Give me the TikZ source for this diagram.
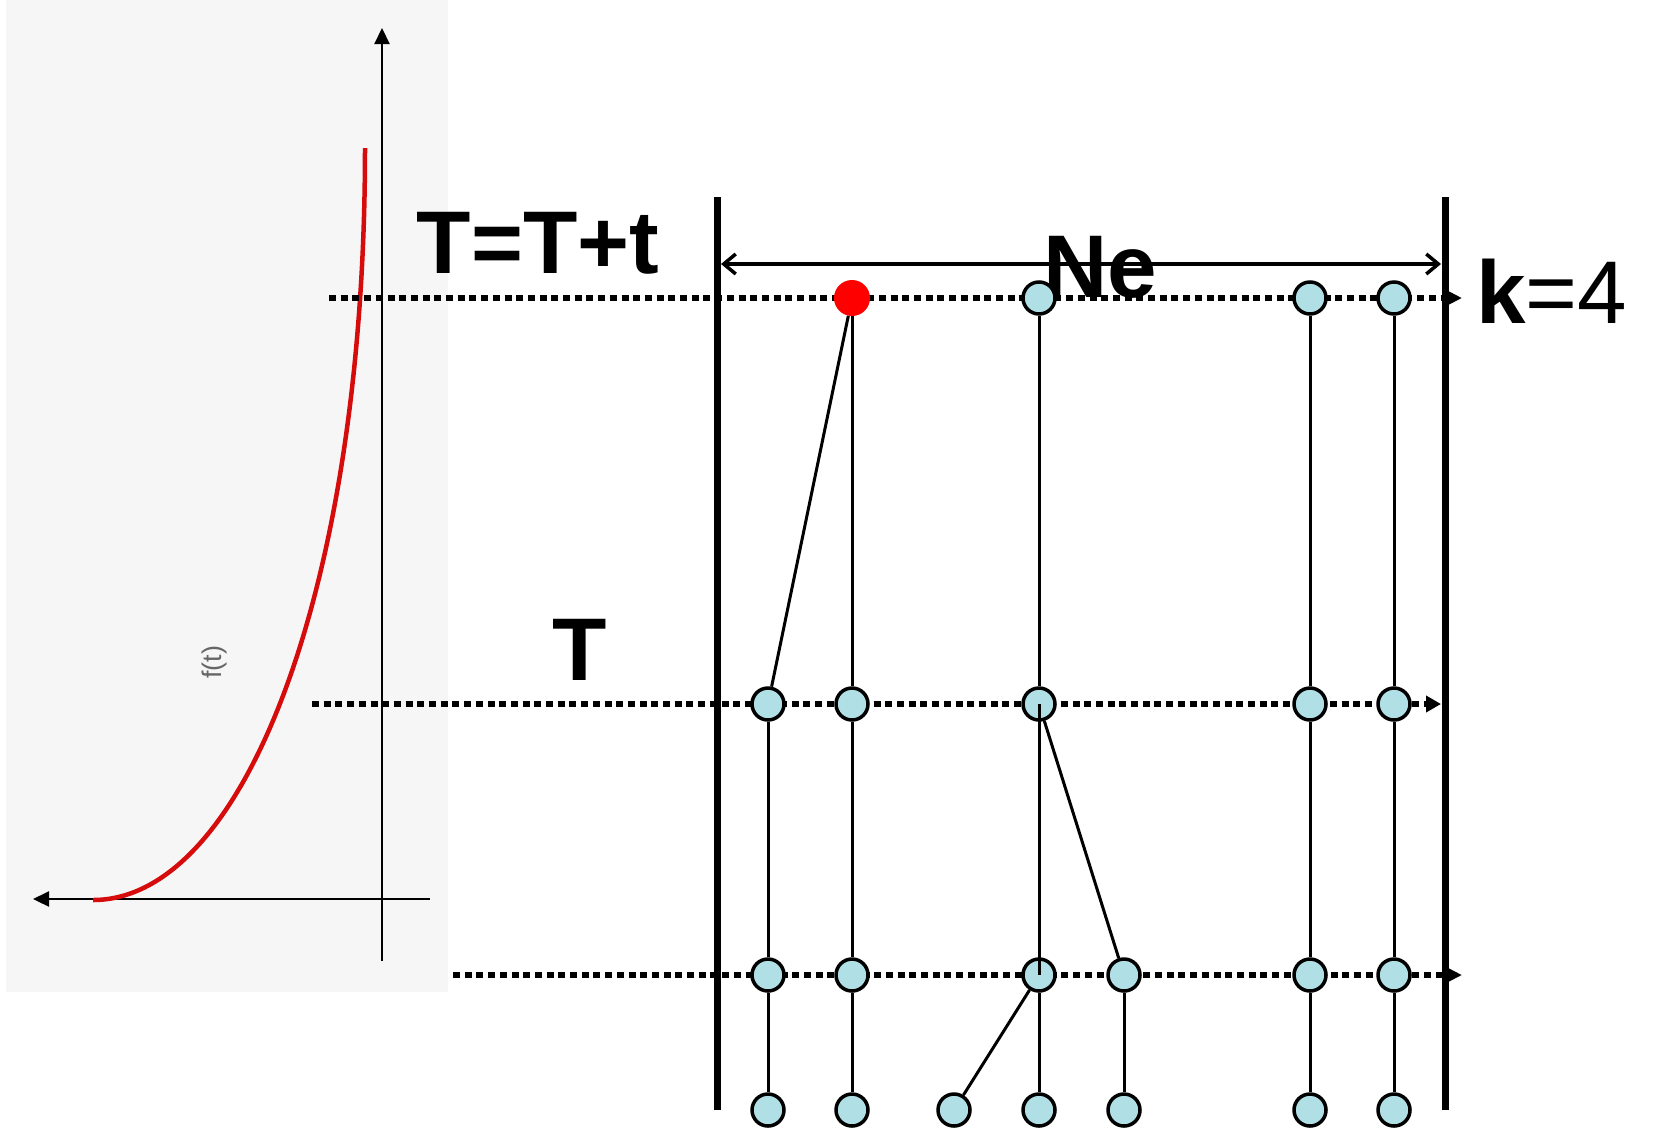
\documentclass[tikz,border=0pt]{standalone}
\usepackage{fontspec}
\setmainfont{Liberation Sans}
\usepackage{tikz}
\usetikzlibrary{arrows.meta}
\definecolor{panelgrey}{RGB}{246,246,246}
\definecolor{cellblue}{RGB}{176,224,230}
\definecolor{curvered}{RGB}{214,12,12}

\begin{document}
\begin{tikzpicture}[x=1pt, y=-1pt,
	lineage/.style={circle, draw=black, line width=3.5pt, fill=cellblue, minimum size=32pt, inner sep=0pt},
	mutant/.style={circle, fill=red, minimum size=36pt, inner sep=0pt},
	gen/.style={line width=6pt, dash pattern=on 7pt off 4.7pt},
	link/.style={line width=3pt},
	big/.style={font=\fontsize{89}{100}\selectfont\bfseries, inner sep=0pt, anchor=base},
	>={Triangle[length=16pt, width=15pt]}]
	\useasboundingbox (0,0) rectangle (1653,1133);
	% f(t) panel
	\fill[panelgrey] (6,0) rectangle (448,992);
	\draw[->, line width=2.2pt] (430,899) -- (33,899);
	\draw[->, line width=2.2pt] (382,961) -- (382,28);
	\draw[curvered, line width=4.5pt] (93,900) .. controls (243,900) and (365,590) .. (365,148);
	\node[gray!80!black, rotate=90, font=\fontsize{27}{30}\selectfont] (ft) at (215,662) {f(t)};
	% generations
	\coordinate (g1s) at (329,298);
	\coordinate (g1e) at (1462,298);
	\coordinate (g2s) at (312,704);
	\coordinate (g2e) at (1441,704);
	\coordinate (g3s) at (453,975);
	\coordinate (g3e) at (1462,975);
	\draw[gen, ->] (g1s) -- (g1e);
	\draw[gen, -{Triangle[length=15pt, width=16pt]}] (g2s) -- (g2e);
	\draw[gen, ->] (g3s) -- (g3e);
	\draw[line width=7pt] (717,197) -- (717,1110);
	\draw[line width=7pt] (1445,197) -- (1445,1110);
	\coordinate (nel) at (721,264);
	\coordinate (ner) at (1441,264);
	\draw[{Straight Barb[length=12pt, width=20pt]}-{Straight Barb[length=12pt, width=20pt]}, line width=3.5pt] (nel) -- (ner);
	\node[big] (ne) at (1100,297) {Ne};
	\node[big] (tt) at (538,273) {T=T+t};
	\node[big] (tm) at (580,680) {T};
	\node[big, anchor=base west] (k) at (1476,323) {k{\mdseries =4}};
	% cells
	\node[mutant] (n12) at (852,298) {};
	\node[lineage] (n14) at (1039,298) {};
	\node[lineage] (n16) at (1310,298) {};
	\node[lineage] (n17) at (1394,298) {};
	\node[lineage] (n21) at (768,704) {};
	\node[lineage] (n22) at (852,704) {};
	\node[lineage] (n24) at (1039,704) {};
	\node[lineage] (n26) at (1310,704) {};
	\node[lineage] (n27) at (1394,704) {};
	\node[lineage] (n31) at (768,975) {};
	\node[lineage] (n32) at (852,975) {};
	\node[lineage] (n34) at (1039,975) {};
	\node[lineage] (n35) at (1124,975) {};
	\node[lineage] (n36) at (1310,975) {};
	\node[lineage] (n37) at (1394,975) {};
	\node[lineage] (n41) at (768,1110) {};
	\node[lineage] (n42) at (852,1110) {};
	\node[lineage] (n43) at (954,1110) {};
	\node[lineage] (n44) at (1039,1110) {};
	\node[lineage] (n45) at (1124,1110) {};
	\node[lineage] (n46) at (1310,1110) {};
	\node[lineage] (n47) at (1394,1110) {};
	% ancestry
	\draw[link] (n12) -- (n21);
	\draw[link] (n12) -- (n22);
	\draw[link] (n14) -- (n24);
	\draw[link] (n16) -- (n26);
	\draw[link] (n17) -- (n27);
	\draw[link] (n21) -- (n31);
	\draw[link] (n22) -- (n32);
	\draw[link] (n24.center) -- (n34.center);
	\draw[link] (n24) -- (n35);
	\draw[link] (n26) -- (n36);
	\draw[link] (n27) -- (n37);
	\draw[link] (n31) -- (n41);
	\draw[link] (n32) -- (n42);
	\draw[link] (n34) -- (n43);
	\draw[link] (n34) -- (n44);
	\draw[link] (n35) -- (n45);
	\draw[link] (n36) -- (n46);
	\draw[link] (n37) -- (n47);
\end{tikzpicture}
\end{document}
